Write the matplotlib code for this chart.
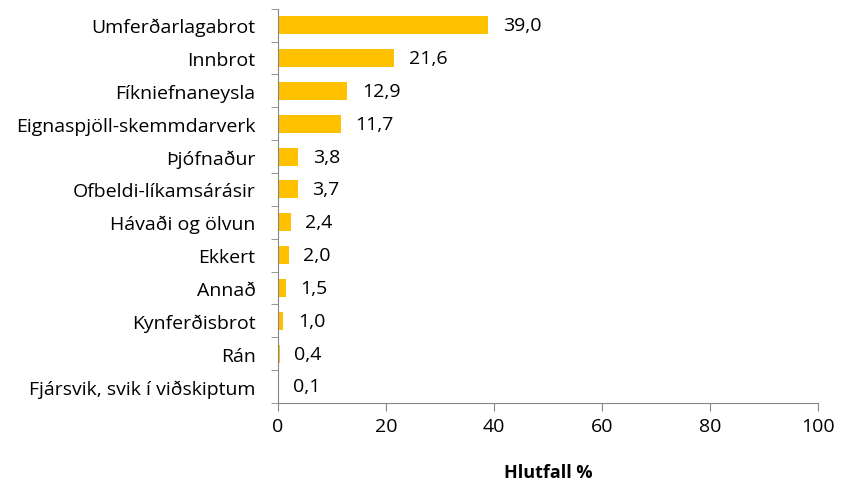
import numpy as np
import matplotlib.pyplot as plt

# Flokkar brota og hlutfall (%)
categories = ['Umferðarlagabrot', 'Innbrot', 'Fíkniefnaneysla', 'Eignaspjöll-skemmdarverk',
              'Þjófnaður', 'Ofbeldi-líkamsárásir', 'Hávaði og ölvun', 'Ekkert',
              'Annað', 'Kynferðisbrot', 'Rán', 'Fjársvik, svik í viðskiptum']
values = [39.0, 21.6, 12.9, 11.7, 3.8, 3.7, 2.4, 2.0, 1.5, 1.0, 0.4, 0.1]
xticks = [0, 20, 40, 60, 80, 100]

plt.rcParams['font.family'] = ['Open Sans', 'DejaVu Sans']
axis_col = '#868686'
fs = 14

fig = plt.figure(figsize=(8.52, 4.89), dpi=100)
ax = fig.add_axes([0.326, 0.174, 0.634, 0.806])

y = np.arange(len(categories))
ax.barh(y, values, height=0.55, color='#FFC000')
for yi, v in zip(y, values):
    ax.annotate(f'{v:.1f}'.replace('.', ','), (v, yi), xytext=(10.5, 0),
                textcoords='offset points', va='center', ha='left', fontsize=fs)

ax.set_ylim(len(categories) - 0.5, -0.5)
ax.set_xlim(0, 100)
ax.set_xticks(xticks)
ax.set_yticks(y)
ax.set_yticklabels(categories, fontsize=fs)
ax.set_yticks(np.arange(-0.5, len(categories)), minor=True)
ax.tick_params(axis='y', which='major', length=0, pad=16)
ax.tick_params(axis='y', which='minor', length=5, color=axis_col)
ax.tick_params(axis='x', length=6, color=axis_col, labelsize=fs, pad=4)
ax.set_xlabel('Hlutfall %', fontsize=13, fontweight='bold', labelpad=20)

for s in ['top', 'right']:
    ax.spines[s].set_visible(False)
for s in ['left', 'bottom']:
    ax.spines[s].set_color(axis_col)

fig.savefig('out.png', dpi=100)
